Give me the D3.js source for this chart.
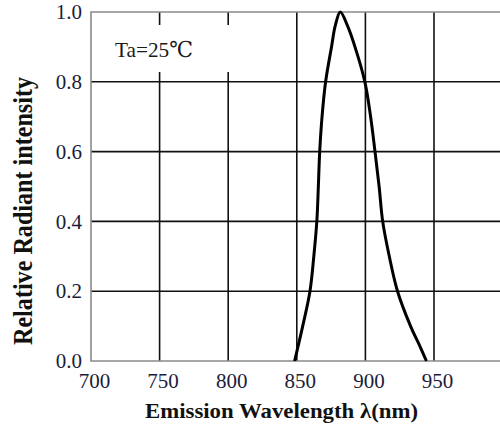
<!DOCTYPE html>
<html>
<head>
<meta charset="utf-8">
<script src="https://cdn.jsdelivr.net/npm/d3@7"></script>
<style>
  body { margin: 0; background: #fff; }
  svg { display: block; }
  svg text { font-family: 'Liberation Serif', 'DejaVu Serif', serif; }
</style>
</head>
<body>
<div class="container"></div>
<script>
// emission spectrum
const wavelength = [848.4, 854.3, 859.6, 862.4, 864.6, 865.7, 866.7, 868.4, 871, 875.3, 878, 881.7,
                    887, 892.4, 899.6, 903.8, 907, 910, 912.6, 917.4, 923.4, 932.9, 940, 944.5];
const intensity  = [0, 0.1, 0.2, 0.3, 0.4, 0.5, 0.6, 0.7, 0.8, 0.9, 0.96, 1.0,
                    0.96, 0.9, 0.8, 0.7, 0.6, 0.5, 0.4, 0.3, 0.2, 0.1, 0.04, 0];
const xTicks = [700, 750, 800, 850, 900, 950];
const xGrid = [750, 800, 850, 900, 950, 1000];
const yTicks = [0, 0.2, 0.4, 0.6, 0.8, 1.0];
const yGrid = [0.2, 0.4, 0.6, 0.8];

const width = 500, height = 425;

let svg = d3.select('.container')
    .append('svg')
    .attr('width', width)
    .attr('height', height);

let x = d3.scaleLinear()
    .domain([700, 1000])
    .range([91, 502.6]);
let y = d3.scaleLinear()
    .domain([0, 1])
    .range([361, 12]);

// grid
svg.append('g').selectAll('line')
    .data(yGrid)
    .enter()
    .append('line')
    .attr('x1', x(700)).attr('x2', x(1000))
    .attr('y1', d => y(d)).attr('y2', d => y(d))
    .attr('stroke', '#111').attr('stroke-width', 1.6);
svg.append('g').selectAll('line')
    .data(xGrid)
    .enter()
    .append('line')
    .attr('x1', d => x(d)).attr('x2', d => x(d))
    .attr('y1', y(1)).attr('y2', y(0))
    .attr('stroke', '#111').attr('stroke-width', 1.6);

// white patch behind the temperature note
svg.append('rect')
    .attr('x', 100).attr('y', 25)
    .attr('width', 160).attr('height', 47)
    .attr('fill', '#fff');

// frame (left, top, bottom in grey)
svg.append('path')
    .attr('d', `M${x(1000)},${y(1)}H${x(700)}V${y(0)}H${x(1000)}`)
    .attr('fill', 'none')
    .attr('stroke', '#8a8a8a')
    .attr('stroke-width', 1.6);

svg.append('text')
    .attr('x', 115).attr('y', 57)
    .attr('font-size', 22)
    .attr('fill', '#1a1a1a')
    .attr('textLength', 78)
    .attr('lengthAdjust', 'spacingAndGlyphs')
    .text('Ta=25℃');

// curve
let pts = wavelength.map((w, i) => [w, intensity[i]]);
let line = d3.line()
    .x(d => x(d[0]))
    .y(d => y(d[1]))
    .curve(d3.curveCatmullRom.alpha(0.5));
svg.append('path')
    .datum(pts)
    .attr('d', line)
    .attr('fill', 'none')
    .attr('stroke', '#000')
    .attr('stroke-width', 3)
    .attr('stroke-linejoin', 'round');

// axes (labels only)
let yAxis = d3.axisLeft(y)
    .tickValues(yTicks)
    .tickFormat(d3.format('.1f'))
    .tickSize(0)
    .tickPadding(9);
let xAxis = d3.axisBottom(x)
    .tickValues(xTicks)
    .tickFormat(d3.format('d'))
    .tickSize(0)
    .tickPadding(12);

let gy = svg.append('g')
    .attr('transform', 'translate(91,0)')
    .call(yAxis);
let gx = svg.append('g')
    .attr('transform', 'translate(0,361)')
    .call(xAxis);
[gx, gy].forEach(g => {
    g.attr('font-family', null);
    g.select('.domain').remove();
    g.selectAll('text')
        .attr('font-size', 21)
        .attr('fill', '#1c1c3a');
});
gx.selectAll('text').attr('dx', 3);

// axis titles
svg.append('text')
    .attr('x', 145).attr('y', 418)
    .attr('font-weight', 'bold')
    .attr('font-size', 22)
    .attr('fill', '#111')
    .attr('textLength', 273)
    .attr('lengthAdjust', 'spacingAndGlyphs')
    .text('Emission Wavelength  λ(nm)');

svg.append('text')
    .attr('transform', 'translate(32,211) rotate(-90)')
    .attr('text-anchor', 'middle')
    .attr('font-weight', 'bold')
    .attr('font-size', 27)
    .attr('fill', '#111')
    .attr('textLength', 268)
    .attr('lengthAdjust', 'spacingAndGlyphs')
    .text('Relative Radiant intensity');
</script>
</body>
</html>
